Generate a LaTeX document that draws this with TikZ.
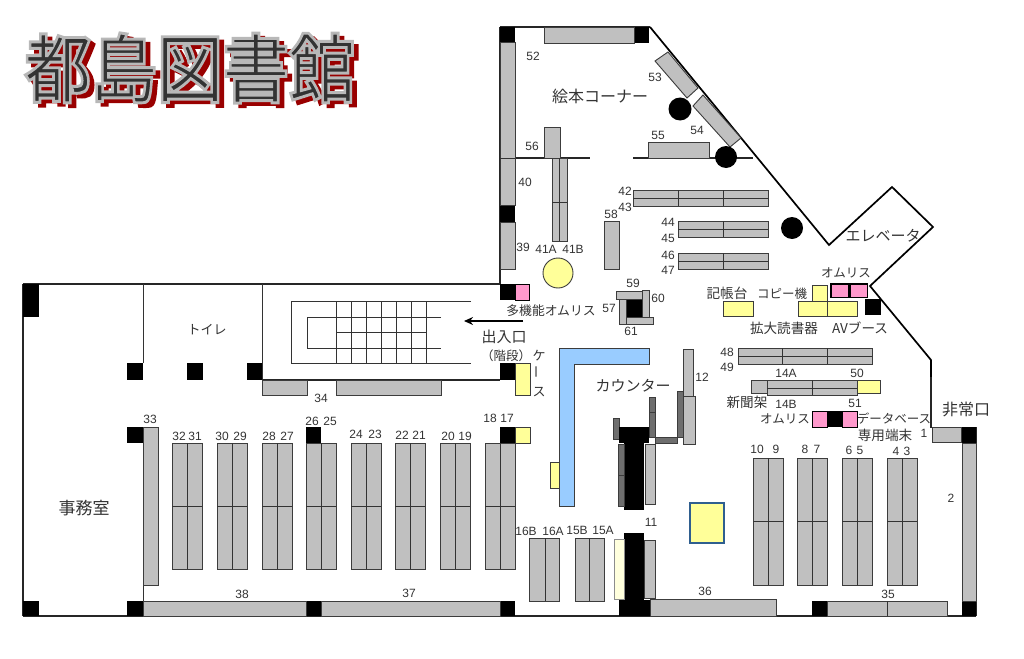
\documentclass[tikz,border=0pt]{standalone}
\usepackage{fontspec}
\setmainfont{Liberation Sans}
\newfontfamily\jpfont{Noto Sans CJK JP}
\usetikzlibrary{arrows.meta}
\definecolor{shelfgray}{HTML}{C0C0C0}
\definecolor{stripgray}{HTML}{6E6E6E}
\definecolor{edgegray}{HTML}{3C3C3C}
\definecolor{paleyellow}{HTML}{FFFF99}
\definecolor{ivory}{HTML}{FFFFDD}
\definecolor{ompink}{HTML}{FF99CC}
\definecolor{deskblue}{HTML}{99CCFF}
\definecolor{tableblue}{HTML}{2F5F8F}
\newcommand{\titletext}{\scalebox{1}[1.12]{都島図書館}}
\tikzset{
  shelf/.style={draw=edgegray, fill=shelfgray, line width=0.9pt},
  strip/.style={draw=edgegray, fill=stripgray, line width=0.9pt},
  pillar/.style={fill=black},
  yellowbox/.style={draw=edgegray, fill=paleyellow, line width=0.9pt},
  pinkbox/.style={draw=black, fill=ompink, line width=1pt},
  wall/.style={draw=black!85, line width=1.1pt},
  thickwall/.style={draw=black, line width=1.7pt},
  thin wall/.style={draw=black!80, line width=0.8pt},
  titlelabel/.style={inner sep=0pt, font=\jpfont\fontsize{66}{66}\selectfont},
  numlabel/.style={inner sep=0pt, text=black!80, font=\fontsize{12}{12}\selectfont},
  smalllabel/.style={inner sep=0pt, text=black!80, font=\jpfont\fontsize{12.5}{12.5}\selectfont},
  medlabel/.style={inner sep=0pt, text=black!80, font=\jpfont\fontsize{13.6}{13.6}\selectfont},
  biglabel/.style={inner sep=0pt, text=black!80, font=\jpfont\fontsize{15}{15}\selectfont},
}
\begin{document}
\begin{tikzpicture}[x=1pt, y=-1pt]
    \useasboundingbox (0,0) rectangle (1024,658);

    % title
    \node[titlelabel] (titleshadow) at (195,72) {\special{pdf:code 2 Tr 3.5 w 0.6 0 0 RG 0.6 0 0 rg}\titletext\special{pdf:code 0 Tr 1 w 0 G 0 g}};
    \node[titlelabel] (title) at (190,68) {\rlap{\special{pdf:code 2 Tr 4 w 0.72 0.72 0.72 RG 0.72 0.72 0.72 rg}\titletext\special{pdf:code 0 Tr 1 w 0 G 0 g}}\special{pdf:code 2 Tr 1.2 w 0.72 0.72 0.72 RG 0.2 0.2 0.2 rg}\titletext\special{pdf:code 0 Tr 1 w 0 G 0 g}};

    % outer walls
    \draw[wall] (500,27) -- (650,27);
    \draw[wall] (500,27) -- (500,284);
    \draw[wall] (23,284) -- (500,284);
    \draw[wall] (23,284) -- (23,616);
    \draw[wall] (23,616) -- (976,616);
    \draw[wall] (976,427) -- (976,616);
    \draw[thickwall] (650,27) -- (829,245) -- (892,187) -- (933,227) -- (870,286) -- (931,360) -- (931,377);
    \draw[wall] (931,377) -- (931,428);

    % inner walls
    \draw[thin wall] (143,284) -- (143,363);
    \draw[thin wall] (143,443) -- (143,601);
    \draw[thin wall] (262,284) -- (262,380);
    \draw[wall] (262,380) -- (500,380);
    \draw[wall] (500,158) -- (590,158);
    \draw[wall] (633,158) -- (753,158);

    % stairs
    \draw[thin wall] (471,301) -- (291,301) -- (291,363) -- (471,363);
    \draw[thin wall] (441,317) -- (307,317) -- (307,348) -- (441,348);
    \draw[thin wall] (336,332) -- (426,332);
    \draw[thin wall] (336,301) -- (336,363);
    \draw[thin wall] (351,301) -- (351,363);
    \draw[thin wall] (366,301) -- (366,363);
    \draw[thin wall] (381,301) -- (381,363);
    \draw[thin wall] (396,301) -- (396,363);
    \draw[thin wall] (411,301) -- (411,363);
    \draw[thin wall] (426,301) -- (426,363);
    \coordinate (doorstart) at (523,321);
    \coordinate (doorend) at (464,321);
    \draw[line width=1.6pt, -{Stealth[length=9pt,width=8pt]}] (doorstart) -- (doorend);

    % pillars
    \fill[pillar] (23,284) rectangle (39,317);
    \fill[pillar] (23,601) rectangle (39,616);
    \fill[pillar] (127,363) rectangle (143,380);
    \fill[pillar] (187,363) rectangle (203,380);
    \fill[pillar] (247,363) rectangle (262,380);
    \fill[pillar] (127,427) rectangle (143,443);
    \fill[pillar] (127,601) rectangle (143,616);
    \fill[pillar] (306,427) rectangle (321,443);
    \fill[pillar] (306,601) rectangle (321,616);
    \fill[pillar] (500,284) rectangle (515,300);
    \fill[pillar] (500,363) rectangle (515,380);
    \fill[pillar] (500,427) rectangle (515,443);
    \fill[pillar] (500,601) rectangle (515,616);
    \fill[pillar] (500,27) rectangle (515,42);
    \fill[pillar] (500,205) rectangle (515,222);
    \fill[pillar] (634,27) rectangle (649,43);
    \fill[pillar] (865,299) rectangle (881,315);
    \fill[pillar] (961,427) rectangle (976,443);
    \fill[pillar] (962,601) rectangle (976,616);
    \fill[pillar] (812,601) rectangle (827,616);

    % left block of shelves
    \draw[shelf] (143,427) rectangle (158,585);
    \draw[shelf] (262,380) rectangle (307,395);
    \draw[shelf] (336,380) rectangle (441,395);
    \draw[shelf] (143,601) rectangle (306,616);
    \draw[shelf] (321,601) rectangle (500,616);
    \draw[shelf] (172,443) rectangle (202,569);
    \draw[thin wall] (187,443) -- (187,569);
    \draw[thin wall] (172,506) -- (202,506);
    \draw[shelf] (217,443) rectangle (247,569);
    \draw[thin wall] (232,443) -- (232,569);
    \draw[thin wall] (217,506) -- (247,506);
    \draw[shelf] (262,443) rectangle (292,569);
    \draw[thin wall] (277,443) -- (277,569);
    \draw[thin wall] (262,506) -- (292,506);
    \draw[shelf] (306,443) rectangle (336,569);
    \draw[thin wall] (321,443) -- (321,569);
    \draw[thin wall] (306,506) -- (336,506);
    \draw[shelf] (351,443) rectangle (381,569);
    \draw[thin wall] (366,443) -- (366,569);
    \draw[thin wall] (351,506) -- (381,506);
    \draw[shelf] (395,443) rectangle (425,569);
    \draw[thin wall] (410,443) -- (410,569);
    \draw[thin wall] (395,506) -- (425,506);
    \draw[shelf] (440,443) rectangle (470,569);
    \draw[thin wall] (455,443) -- (455,569);
    \draw[thin wall] (440,506) -- (470,506);
    \draw[shelf] (485,443) rectangle (515,569);
    \draw[thin wall] (500,443) -- (500,569);
    \draw[thin wall] (485,506) -- (515,506);
    \draw[yellowbox] (515,363) rectangle (530,395);
    \draw[yellowbox] (515,427) rectangle (530,443);
    \draw[pinkbox] (515,284) rectangle (529,300);

    % picture book corner
    \draw[shelf] (544,27) rectangle (634,43);
    \draw[shelf] (500,42) rectangle (515,205);
    \draw[shelf] (500,222) rectangle (515,269);
    \draw[shelf] (544,127) rectangle (560,158);
    \draw[shelf] (552,158) rectangle (567,241);
    \draw[thin wall] (559,158) -- (559,241);
    \draw[thin wall] (552,202) -- (567,202);
    \draw[shelf] (604,221) rectangle (619,269);
    \draw[shelf] (648,142) rectangle (709,158);
    \draw[shelf] (655,61) -- (668,52) -- (698,88) -- (687,98) -- cycle;
    \draw[shelf] (693,106) -- (703,95) -- (741,138) -- (730,147) -- cycle;
    \draw[thin wall] (500,158) -- (515,158);
    \fill[black] (680,109) circle (11.5);
    \fill[black] (726,157) circle (11);
    \fill[black] (792,228) circle (11);
    \draw[draw=edgegray, fill=paleyellow, line width=0.9pt] (558,273) circle (15);

    % shelves 42 to 47
    \draw[shelf] (633,190) rectangle (768,206);
    \draw[thin wall] (633,198) -- (768,198);
    \draw[thin wall] (678,190) -- (678,206);
    \draw[thin wall] (723,190) -- (723,206);
    \draw[shelf] (678,221) rectangle (768,237);
    \draw[thin wall] (678,229) -- (768,229);
    \draw[thin wall] (723,221) -- (723,237);
    \draw[shelf] (678,253) rectangle (768,269);
    \draw[thin wall] (678,261) -- (768,261);
    \draw[thin wall] (723,253) -- (723,269);

    % 57 to 61
    \fill[pillar] (626,299) rectangle (642,317);
    \draw[shelf] (616,291) rectangle (642,299);
    \draw[shelf] (642,290) rectangle (649,317);
    \draw[shelf] (619,299) rectangle (626,324);
    \draw[shelf] (626,317) rectangle (653,324);

    % counter
    \draw[draw=edgegray, fill=deskblue, line width=0.9pt] (559,348) -- (649,348) -- (649,364) -- (574,364) -- (574,506) -- (559,506) -- cycle;
    \draw[yellowbox] (550,462) rectangle (559,488);
    \draw[shelf] (683,349) rectangle (693,396);
    \draw[shelf] (683,396) rectangle (695,444);
    \draw[strip] (677,391) rectangle (683,437);
    \draw[strip] (655,437) rectangle (677,443);
    \draw[strip] (649,397) rectangle (655,412);
    \draw[strip] (649,412) rectangle (655,437);
    \draw[strip] (613,418) rectangle (619,439);
    \fill[pillar] (619,427) rectangle (649,443);
    \fill[pillar] (624,443) rectangle (644,510);
    \draw[strip] (618,444) rectangle (624,475);
    \draw[strip] (618,475) rectangle (624,506);
    \draw[shelf] (645,444) rectangle (655,504);
    \fill[pillar] (624,533) rectangle (644,600);
    \fill[pillar] (619,600) rectangle (650,616);
    \draw[shelf] (644,540) rectangle (655,598);
    \draw[draw=black!45, fill=ivory, line width=0.8pt] (614,539) rectangle (624,599);
    \draw[draw=tableblue, fill=paleyellow, line width=1.2pt] (690,503) rectangle (724,543);
    \draw[shelf] (529,538) rectangle (559,601);
    \draw[thin wall] (545,538) -- (545,601);
    \draw[shelf] (575,538) rectangle (604,601);
    \draw[thin wall] (589,538) -- (589,601);

    % right side
    \draw[yellowbox] (723,301) rectangle (753,316);
    \draw[yellowbox] (812,285) rectangle (827,301);
    \draw[yellowbox] (798,301) rectangle (827,316);
    \draw[yellowbox] (827,301) rectangle (857,316);
    \fill[black] (830,283) rectangle (868,298);
    \draw[fill=ompink, draw=none] (832,285) rectangle (848,297);
    \draw[fill=ompink, draw=none] (851,285) rectangle (867,297);
    \draw[shelf] (738,348) rectangle (872,364);
    \draw[thin wall] (738,356) -- (872,356);
    \draw[thin wall] (782,348) -- (782,364);
    \draw[thin wall] (827,348) -- (827,364);
    \draw[shelf] (751,380) rectangle (767,393);
    \draw[shelf] (767,380) rectangle (857,395);
    \draw[thin wall] (767,388) -- (857,388);
    \draw[thin wall] (812,380) -- (812,395);
    \draw[yellowbox] (857,380) rectangle (880,393);
    \fill[pillar] (827,411) rectangle (842,427);
    \draw[pinkbox] (812,411) rectangle (827,427);
    \draw[pinkbox] (842,411) rectangle (857,427);
    \draw[shelf] (932,427) rectangle (961,442);
    \draw[shelf] (962,443) rectangle (976,601);
    \draw[shelf] (650,599) rectangle (776,616);
    \draw[shelf] (827,601) rectangle (947,616);
    \draw[thin wall] (887,601) -- (887,616);
    \draw[shelf] (753,458) rectangle (783,585);
    \draw[thin wall] (768,458) -- (768,585);
    \draw[thin wall] (753,521) -- (783,521);
    \draw[shelf] (797,458) rectangle (827,585);
    \draw[thin wall] (812,458) -- (812,585);
    \draw[thin wall] (797,521) -- (827,521);
    \draw[shelf] (842,458) rectangle (872,585);
    \draw[thin wall] (857,458) -- (857,585);
    \draw[thin wall] (842,521) -- (872,521);
    \draw[shelf] (887,458) rectangle (917,585);
    \draw[thin wall] (902,458) -- (902,585);
    \draw[thin wall] (887,521) -- (917,521);

    % room names
    \node[biglabel, font=\jpfont\fontsize{16}{16}\selectfont] (ehon) at (600,96) {絵本コーナー};
    \node[biglabel] (elevator) at (883,236) {エレベータ};
    \node[biglabel] (counter) at (633,386) {カウンター};
    \node[biglabel, font=\jpfont\fontsize{13}{13}\selectfont] (toilet) at (207,330) {トイレ};
    \node[biglabel, font=\jpfont\fontsize{17}{17}\selectfont] (office) at (84,508) {事務室};
    \node[biglabel, font=\jpfont\fontsize{16}{16}\selectfont] (exit) at (966,409) {非常口};
    \node[biglabel] (entrance) at (504,337) {出入口};
    \node[smalllabel] (stairsname) at (506,356) {（階段）};
    \node[smalllabel, align=center, font=\jpfont\fontsize{13}{18}\selectfont] (casename) at (539,374) {ケ\\\rotatebox{90}{ー}\\ス};

    % equipment names
    \node[smalllabel, font=\jpfont\fontsize{12.8}{12.8}\selectfont] (omrismulti) at (551,311) {多機能オムリス};
    \node[medlabel] (register) at (727,293) {記帳台};
    \node[smalllabel] (copier) at (782,294) {コピー機};
    \node[smalllabel] (omristop) at (846,273) {オムリス};
    \node[medlabel] (magnifier) at (784,328) {拡大読書器};
    \node[medlabel] (avbooth) at (860,328) {AVブース};
    \node[medlabel] (newspaper) at (747,402) {新聞架};
    \node[smalllabel] (omrislow) at (785,419) {オムリス};
    \node[smalllabel] (database) at (894,419) {データベース};
    \node[medlabel] (terminal) at (885,435) {専用端末};

    % shelf numbers
    \node[numlabel] (n1) at (924,433) {1};
    \node[numlabel] (n2) at (951,498) {2};
    \node[numlabel] (n3) at (907,451) {3};
    \node[numlabel] (n4) at (896,451) {4};
    \node[numlabel] (n5) at (860,450) {5};
    \node[numlabel] (n6) at (849,450) {6};
    \node[numlabel] (n7) at (817,449) {7};
    \node[numlabel] (n8) at (805,449) {8};
    \node[numlabel] (n9) at (776,449) {9};
    \node[numlabel] (n10) at (757,449) {10};
    \node[numlabel] (n11) at (651,522) {11};
    \node[numlabel] (n12) at (702,377) {12};
    \node[numlabel] (n14a) at (786,373) {14A};
    \node[numlabel] (n14b) at (786,404) {14B};
    \node[numlabel] (n15a) at (603,530) {15A};
    \node[numlabel] (n15b) at (577,530) {15B};
    \node[numlabel] (n16a) at (553,531) {16A};
    \node[numlabel] (n16b) at (526,531) {16B};
    \node[numlabel] (n17) at (507,418) {17};
    \node[numlabel] (n18) at (490,418) {18};
    \node[numlabel] (n19) at (465,436) {19};
    \node[numlabel] (n20) at (448,436) {20};
    \node[numlabel] (n21) at (419,435) {21};
    \node[numlabel] (n22) at (402,435) {22};
    \node[numlabel] (n23) at (375,434) {23};
    \node[numlabel] (n24) at (356,434) {24};
    \node[numlabel] (n25) at (330,421) {25};
    \node[numlabel] (n26) at (312,421) {26};
    \node[numlabel] (n27) at (287,436) {27};
    \node[numlabel] (n28) at (269,436) {28};
    \node[numlabel] (n29) at (240,436) {29};
    \node[numlabel] (n30) at (222,436) {30};
    \node[numlabel] (n31) at (195,436) {31};
    \node[numlabel] (n32) at (179,436) {32};
    \node[numlabel] (n33) at (150,419) {33};
    \node[numlabel] (n34) at (321,398) {34};
    \node[numlabel] (n35) at (888,594) {35};
    \node[numlabel] (n36) at (705,591) {36};
    \node[numlabel] (n37) at (409,593) {37};
    \node[numlabel] (n38) at (242,594) {38};
    \node[numlabel] (n39) at (523,247) {39};
    \node[numlabel] (n40) at (525,182) {40};
    \node[numlabel] (n41a) at (546,249) {41A};
    \node[numlabel] (n41b) at (573,249) {41B};
    \node[numlabel] (n42) at (625,191) {42};
    \node[numlabel] (n43) at (625,207) {43};
    \node[numlabel] (n44) at (668,222) {44};
    \node[numlabel] (n45) at (668,238) {45};
    \node[numlabel] (n46) at (668,255) {46};
    \node[numlabel] (n47) at (668,270) {47};
    \node[numlabel] (n48) at (727,352) {48};
    \node[numlabel] (n49) at (727,367) {49};
    \node[numlabel] (n50) at (857,373) {50};
    \node[numlabel] (n51) at (855,403) {51};
    \node[numlabel] (n52) at (533,56) {52};
    \node[numlabel] (n53) at (655,77) {53};
    \node[numlabel] (n54) at (697,130) {54};
    \node[numlabel] (n55) at (658,135) {55};
    \node[numlabel] (n56) at (532,146) {56};
    \node[numlabel] (n57) at (609,308) {57};
    \node[numlabel] (n58) at (611,214) {58};
    \node[numlabel] (n59) at (633,283) {59};
    \node[numlabel] (n60) at (658,298) {60};
    \node[numlabel] (n61) at (631,331) {61};
\end{tikzpicture}
\end{document}
